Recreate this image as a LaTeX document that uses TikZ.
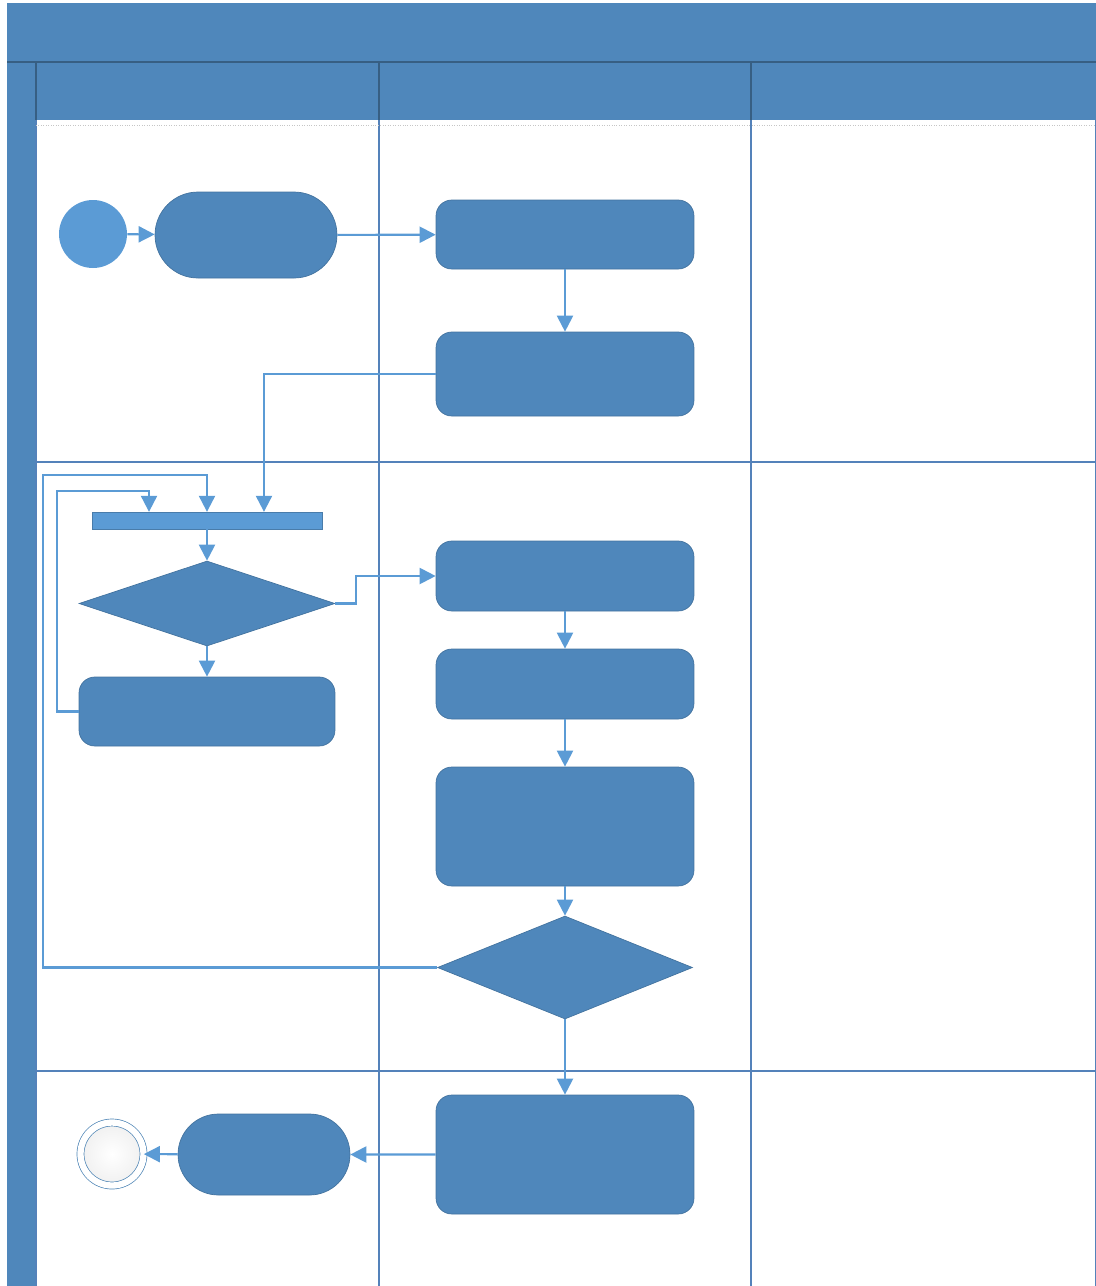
\documentclass[tikz,border=0pt]{standalone}
\usepackage{xcolor}
\usepackage{tikz}
\usetikzlibrary{shapes.geometric, shapes.misc, arrows.meta}

\definecolor{poolblue}{RGB}{79,135,187}
\definecolor{boxblue}{RGB}{79,135,187}
\definecolor{lightblue}{RGB}{91,155,213}
\definecolor{laneline}{RGB}{84,130,186}

\begin{document}
\begin{tikzpicture}[x=0.02cm, y=-0.02cm,
            startnode/.style={circle, fill=lightblue, minimum size=1.36cm, inner sep=0pt},
            endnode/.style  ={circle, draw=lightblue!85!black, double=white, double distance=3.6pt,
                              thin, inner color=white, outer color=gray!12,
                              minimum size=1.26cm, inner sep=0pt},
            terminal/.style ={rounded rectangle, fill=boxblue, draw=boxblue!85!black, thin,
                              inner sep=0pt},
            activity/.style ={rectangle, rounded corners=9pt, fill=boxblue, draw=boxblue!85!black,
                              thin, minimum width=5.16cm, inner sep=0pt},
            choice/.style   ={diamond, fill=boxblue, draw=boxblue!85!black, thin, inner sep=0pt},
            syncbar/.style  ={rectangle, fill=lightblue, draw=lightblue!80!black, very thin,
                              minimum width=4.6cm, minimum height=0.34cm, inner sep=0pt},
            arr/.style      ={-{Triangle[length=0.32cm, width=0.32cm]}, line width=1.2pt, lightblue},
            lane/.style     ={laneline, line width=0.7pt},
            headline/.style ={poolblue!70!black, line width=0.6pt}
        ]
            \useasboundingbox (0,0) rectangle (1096,1286);

            % --- Pool ---
            \fill[poolblue] (7,3) rectangle (1096,120);
            \fill[poolblue] (7,62) rectangle (36,1286);
            \draw[headline] (7,62) -- (1096,62);
            \draw[headline] (36,62) -- (36,120);
            \draw[headline] (379,62) -- (379,120);
            \draw[headline] (751,62) -- (751,120);
            \draw[lane] (36,120) -- (36,1286);
            \draw[lane] (379,120) -- (379,1286);
            \draw[lane] (751,120) -- (751,1286);
            \draw[lane] (36,462) -- (1096,462);
            \draw[lane] (36,1071) -- (1096,1071);
            \draw[lane] (1096,120) -- (1096,1286);
            \draw[gray!45, densely dotted] (36,125) -- (1096,125);

            % --- Fila 1 ---
            \node[startnode] (inicio) at (93,234) {};
            \node[terminal, minimum width=3.64cm, minimum height=1.72cm] (recibe) at (246,235) {};
            \node[activity, minimum height=1.38cm] (registra) at (565,234.5) {};
            \node[activity, minimum height=1.68cm] (envia) at (565,374) {};

            % --- Fila 2 ---
            \node[syncbar] (union) at (207,520.5) {};
            \node[choice, minimum width=5.12cm, minimum height=1.70cm] (valida) at (207,603.5) {};
            \node[activity, minimum width=5.12cm, minimum height=1.38cm] (corrige) at (207,711.5) {};
            \node[activity, minimum height=1.40cm] (revisa) at (565,576) {};
            \node[activity, minimum height=1.40cm] (calcula) at (565,684) {};
            \node[activity, minimum height=2.38cm] (genera) at (565,826.5) {};
            \node[choice, minimum width=5.10cm, minimum height=2.06cm] (aprueba) at (565,967.5) {};

            % --- Fila 3 ---
            \node[activity, minimum height=2.38cm] (emite) at (565,1154.5) {};
            \node[terminal, minimum width=3.44cm, minimum height=1.62cm] (cierra) at (264,1154.5) {};
            \node[endnode] (fin) at (112,1154) {};

            % --- Enlaces ---
            \draw[arr] (inicio) -- (recibe);
            \draw[arr] (recibe) -- (registra);
            \draw[arr] (registra) -- (envia);
            \draw[arr] (envia.west) -| ([xshift=1.14cm]union.north);

            % Retornos hacia la barra
            \draw[arr] (aprueba.west) -| (43,475) -| (union.north);
            \draw[arr] (corrige.west) -| (57,491) -| ([xshift=-1.16cm]union.north);

            \draw[arr] (union) -- (valida);
            \draw[arr] (valida) -- (corrige);
            \draw[arr] (valida.east) -- ++(21,0) |- (revisa.west);
            \draw[arr] (revisa) -- (calcula);
            \draw[arr] (calcula) -- (genera);
            \draw[arr] (genera) -- (aprueba);
            \draw[arr] (aprueba) -- (emite);
            \draw[arr] (emite) -- (cierra);
            \draw[arr] (cierra) -- (fin);
        \end{tikzpicture}
\end{document}
